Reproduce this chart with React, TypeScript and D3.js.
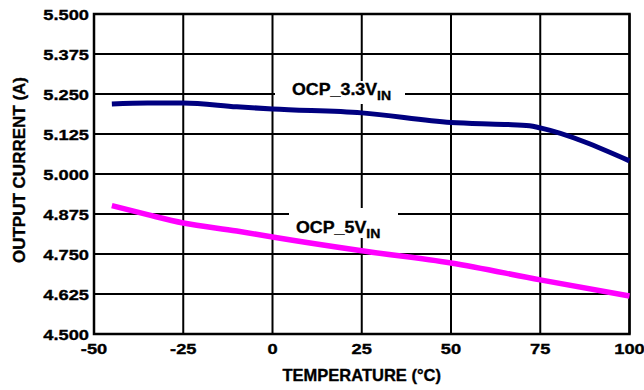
import React from "react";
import * as d3 from "d3";

const temps33 = [-45, -35, -25, -10, 0, 25, 50, 65, 72, 75, 100];
const ocp33 = [5.219, 5.222, 5.222, 5.21, 5.203, 5.191, 5.161, 5.155, 5.151, 5.144, 5.041];
const temps5 = [-45, -35, -25, -10, 0, 25, 50, 75, 100];
const ocp5 = [4.901, 4.873, 4.847, 4.822, 4.803, 4.76, 4.722, 4.669, 4.619];
const xTicks = [-50, -25, 0, 25, 50, 75, 100];
const yTicks = [4.5, 4.625, 4.75, 4.875, 5.0, 5.125, 5.25, 5.375, 5.5];

const W = 644, H = 390;
const L = 94, R = 629.5, T = 14, B = 334;
const FONT = "'Liberation Sans', Arial, Helvetica, sans-serif";
const TS = { stroke: "#000", strokeWidth: 0.35, fill: "#000" };

export default function App() {
  const x = d3.scaleLinear().domain([-50, 100]).range([L, R]);
  const y = d3.scaleLinear().domain([4.5, 5.5]).range([B, T]);
  const line = d3
    .line<[number, number]>()
    .x((d) => x(d[0]))
    .y((d) => y(d[1]))
    .curve(d3.curveMonotoneX);
  const d33 = line(temps33.map((t, i) => [t, ocp33[i]] as [number, number])) || "";
  const d5 = line(temps5.map((t, i) => [t, ocp5[i]] as [number, number])) || "";

  return (
    <svg width={W} height={H} style={{ position: "absolute", left: 0, top: 0, background: "#fff" }} fontFamily={FONT}>
      <rect x={0} y={0} width={W} height={H} fill="#fff" />
      {xTicks.map((t) => (
        <line key={"gx" + t} x1={x(t)} x2={x(t)} y1={T} y2={B} stroke="#000" strokeWidth={2} />
      ))}
      {yTicks.map((t) => (
        <line key={"gy" + t} x1={L} x2={R} y1={y(t)} y2={y(t)} stroke="#000" strokeWidth={2} />
      ))}
      {/* label backgrounds */}
      <rect x={275} y={81} width={130} height={23} fill="#fff" />
      <rect x={289} y={208} width={109} height={30} fill="#fff" />
      <rect x={L} y={T} width={R - L} height={B - T} fill="none" stroke="#000" strokeWidth={2.5} />
      <path d={d33} fill="none" stroke="#000080" strokeWidth={5} />
      <path d={d5} fill="none" stroke="#ff00ff" strokeWidth={5.5} />
      {/* series labels */}
      <g transform="translate(292,95) scale(1.08,1)">
        <text fontSize={16.5} fontWeight="bold" {...TS}>
          OCP_3.3V<tspan fontSize={13} dy={4.5}>IN</tspan>
        </text>
      </g>
      <g transform="translate(296,233) scale(1.08,1)">
        <text fontSize={16.5} fontWeight="bold" {...TS}>
          OCP_5V<tspan fontSize={13} dy={4.5}>IN</tspan>
        </text>
      </g>
      {/* y tick labels */}
      {yTicks.map((t) => (
        <g key={"ly" + t} transform={`translate(89,${y(t) + 6}) scale(1.18,1)`}>
          <text textAnchor="end" fontSize={15.5} fontWeight="bold" {...TS}>
            {d3.format(".3f")(t)}
          </text>
        </g>
      ))}
      {/* x tick labels */}
      {xTicks.map((t) => (
        <g key={"lx" + t} transform={`translate(${x(t)},354) scale(1.18,1)`}>
          <text textAnchor="middle" fontSize={15.5} fontWeight="bold" {...TS}>
            {t}
          </text>
        </g>
      ))}
      <text x={(L + R) / 2} y={381} textAnchor="middle" fontSize={16.5} fontWeight="bold" {...TS}>
        TEMPERATURE (°C)
      </text>
      <text
        transform={`translate(25,${(T + B) / 2 - 4}) rotate(-90)`}
        textAnchor="middle"
        fontSize={17}
        fontWeight="bold"
        {...TS}
      >
        OUTPUT CURRENT (A)
      </text>
    </svg>
  );
}
